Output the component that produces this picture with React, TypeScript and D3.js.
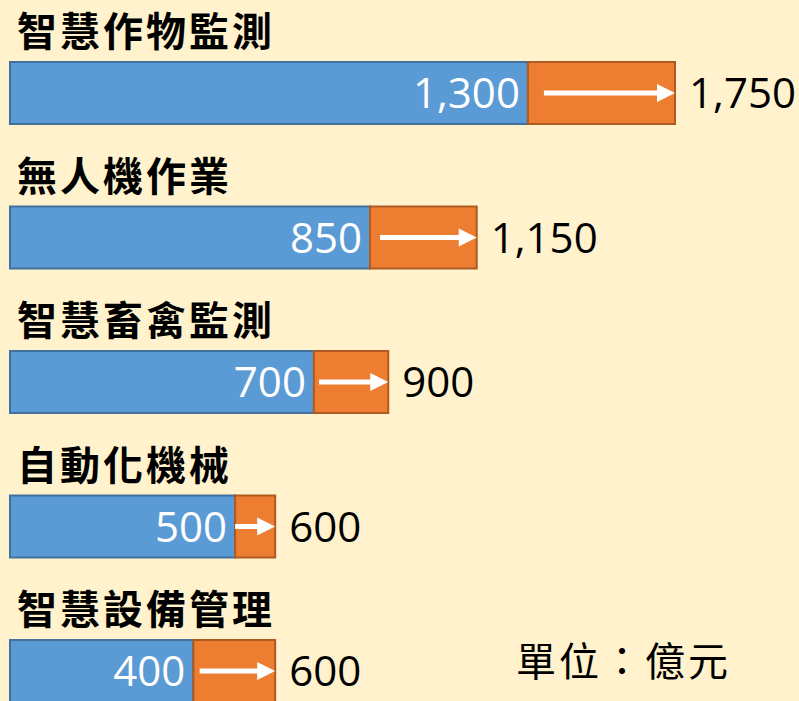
import React from "react";
import * as d3 from "d3";

const categories = ["智慧作物監測", "無人機作業", "智慧畜禽監測", "自動化機械", "智慧設備管理"];
const currentValues = [1300, 850, 700, 500, 400];
const futureValues = [1750, 1150, 900, 600, 600];
const unitLabel = "單位：億元";

const W = 799;
const H = 701;
const BG = "#FFF2CC";
const BLUE = "#5B9BD5";
const BLUE_EDGE = "#41719C";
const ORANGE = "#ED7D31";
const ORANGE_EDGE = "#AE5A21";
const CJK = "'Noto Sans CJK TC', 'Noto Sans CJK SC', sans-serif";
const NUM = "'Open Sans', 'Noto Sans', sans-serif";

export default function App() {
  const barLeft = 10;
  const x = d3.scalePow().exponent(0.8).domain([0, 1750]).range([-20, 675]);
  const y = d3
    .scaleBand<number>()
    .domain(d3.range(categories.length))
    .range([62, 62 + 144.5 * categories.length]);
  const barH = 62;
  const fmt = d3.format(",");

  return (
    <div style={{ position: "fixed", left: 0, top: 0, width: W, height: H }}>
      <svg width={W} height={H} style={{ display: "block" }}>
        <rect x={0} y={0} width={W} height={H} fill={BG} />
        {categories.map((c, i) => {
          const top = y(i) as number;
          const cy = top + barH / 2;
          const x0 = x(currentValues[i]);
          const x1 = x(futureValues[i]);
          const w = x1 - x0;
          const pad = Math.max(0, Math.min(16, (w - 40) * 0.15));
          const aStart = x0 + pad;
          const aEnd = x1;
          return (
            <g key={c}>
              <text
                x={17}
                y={top - 16}
                fontFamily={CJK}
                fontWeight={700}
                fontSize={40}
                letterSpacing={3}
                fill="#000"
              >
                {c}
              </text>
              <rect
                x={barLeft}
                y={top}
                width={x0 - barLeft}
                height={barH}
                fill={BLUE}
                stroke={BLUE_EDGE}
                strokeWidth={2}
              />
              <rect
                x={x0}
                y={top}
                width={w}
                height={barH}
                fill={ORANGE}
                stroke={ORANGE_EDGE}
                strokeWidth={2}
              />
              <text
                x={x0 - 8}
                y={cy + 15}
                textAnchor="end"
                fontFamily={NUM}
                fontSize={42}
                fill="#fff"
              >
                {fmt(currentValues[i])}
              </text>
              <line
                x1={aStart}
                y1={cy}
                x2={aEnd - 16}
                y2={cy}
                stroke="#fff"
                strokeWidth={5}
              />
              <polygon
                points={`${aEnd - 18},${cy - 9} ${aEnd},${cy} ${aEnd - 18},${cy + 9}`}
                fill="#fff"
              />
              <text
                x={x1 + 14}
                y={cy + 15}
                fontFamily={NUM}
                fontSize={42}
                fill="#000"
              >
                {fmt(futureValues[i])}
              </text>
            </g>
          );
        })}
        <text
          x={516}
          y={676}
          fontFamily={CJK}
          fontSize={40}
          letterSpacing={3}
          fill="#000"
        >
          {unitLabel}
        </text>
      </svg>
    </div>
  );
}
